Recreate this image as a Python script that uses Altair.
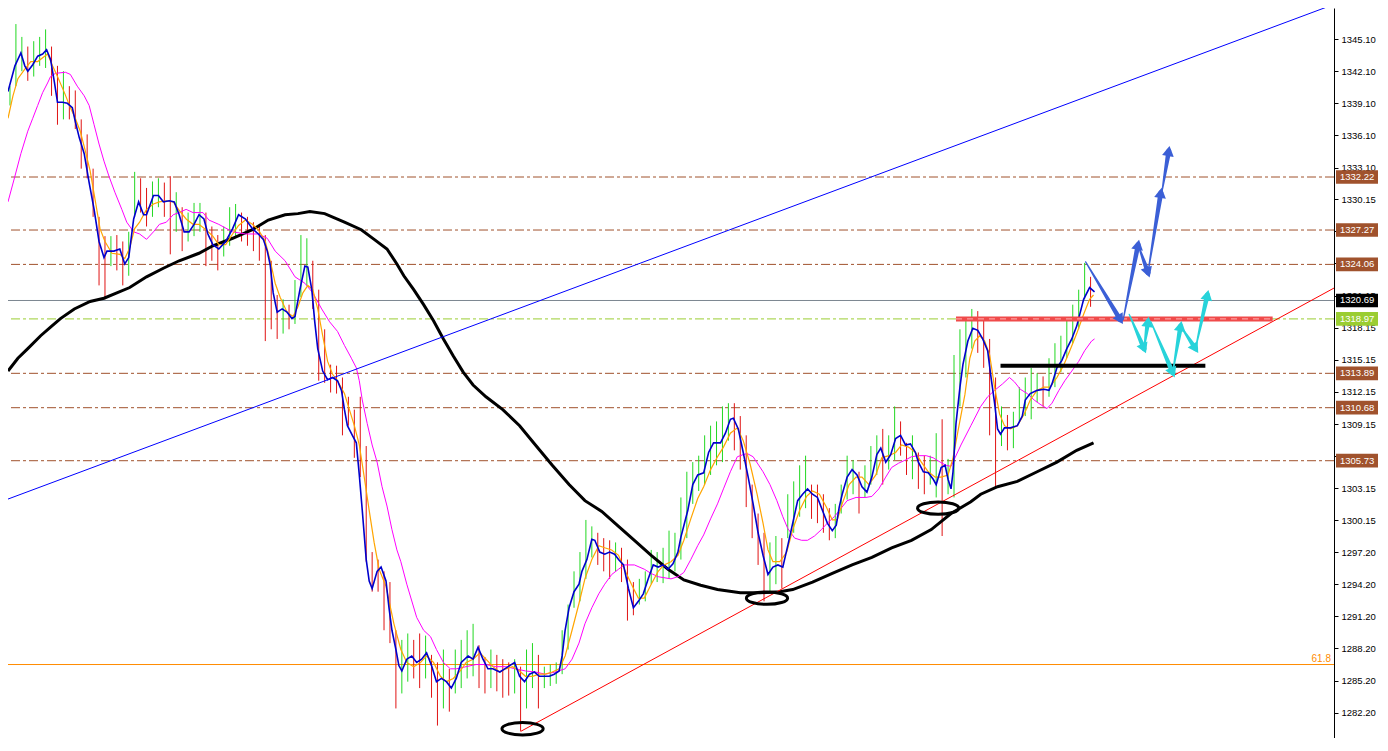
import altair as alt
import pandas as pd

W, H = 1326, 730
P_MIN, P_MAX = 1279.84, 1348.0
T_MAX = 1340

ticks = [1282.20, 1285.20, 1288.20, 1291.20, 1294.20, 1297.20, 1300.15, 1303.15,
         1306.15, 1309.15, 1312.15, 1315.15, 1318.15, 1321.15, 1324.15, 1327.15,
         1330.15, 1333.10, 1336.10, 1339.10, 1342.10, 1345.10]
brown_levels = [1332.22, 1327.27, 1324.06, 1313.89, 1310.68, 1305.73]
green_level = [1318.97]
grey_level = [1320.69]
fib_level = [1286.7]
fib_text = ["61.8"]

# OHLC bars: (time, high, low)
bars = [(2,1340.7,1338.9),(8,1346.5,1340.7),(14,1345.3,1342.1),(20,1344.4,1341.2),(26,1344.9,1341.6),
(32,1345.3,1342.6),(38,1346.0,1342.4),(44,1344.4,1339.8),(50,1342.6,1337.1),(56,1342.1,1337.6),
(62,1340.7,1337.6),(68,1340.3,1336.7),(74,1337.6,1333.0),(80,1336.2,1332.1),(86,1333.0,1328.5),
(92,1328.5,1322.1),(98,1326.7,1320.8),(104,1326.7,1323.9),(110,1326.8,1323.5),(116,1326.2,1322.1),
(122,1327.1,1323.0),(128,1332.7,1328.5),(134,1332.1,1328.9),(140,1331.2,1327.6),(146,1331.8,1328.5),
(152,1332.1,1329.4),(158,1331.7,1328.5),(164,1332.3,1325.0),(170,1330.8,1327.1),(176,1329.4,1325.3),
(182,1328.9,1326.2),(188,1329.8,1326.7),(194,1329.8,1327.1),(200,1328.9,1323.9),(206,1327.6,1324.4),
(212,1326.8,1323.5),(218,1327.6,1324.8),(224,1329.4,1325.8),(230,1329.7,1326.7),(236,1328.9,1326.2),
(242,1328.5,1325.8),(248,1328.0,1325.3),(254,1327.6,1324.4),(260,1326.8,1316.9),(266,1324.4,1318.0),
(272,1321.2,1317.1),(278,1320.8,1317.6),(284,1320.3,1318.0),(290,1322.6,1318.5),(296,1326.8,1321.0),
(302,1326.5,1322.1),(308,1324.4,1319.9),(314,1321.7,1313.2),(320,1318.0,1313.0),(326,1314.7,1312.1),
(332,1314.6,1312.0),(338,1313.5,1308.1),(344,1311.7,1309.0),(350,1310.5,1306.0),(356,1311.7,1304.2),
(362,1307.1,1296.3),(368,1297.2,1293.5),(374,1296.5,1293.5),(380,1295.4,1289.9),(386,1294.4,1288.7),
(392,1289.9,1282.6),(398,1289.0,1284.0),(404,1289.6,1285.1),(410,1289.0,1285.4),(416,1289.6,1284.5),
(422,1289.4,1285.4),(428,1287.6,1283.6),(434,1286.9,1281.0),(440,1288.1,1282.6),(446,1286.3,1282.3),
(452,1288.1,1284.0),(458,1289.0,1284.5),(464,1289.9,1285.4),(470,1290.5,1285.6),(476,1288.5,1284.5),
(482,1287.4,1284.0),(488,1288.1,1284.5),(494,1287.6,1284.2),(500,1287.2,1283.6),(506,1286.9,1283.8),
(512,1287.2,1284.0),(518,1286.5,1280.5),(524,1288.1,1282.6),(530,1288.7,1284.5),(536,1287.6,1282.6),
(542,1286.5,1284.5),(548,1286.7,1284.7),(554,1286.9,1284.9),(560,1289.9,1285.8),(566,1292.3,1288.1),
(572,1295.4,1292.0),(578,1297.2,1292.6),(584,1300.2,1294.7),(590,1299.6,1296.7),(596,1299.0,1296.0),
(602,1298.5,1295.4),(608,1298.3,1294.7),(614,1298.1,1295.4),(620,1297.6,1294.4),(626,1296.5,1290.8),
(632,1294.4,1291.3),(638,1294.7,1292.3),(644,1295.4,1292.6),(650,1297.4,1294.2),(656,1297.2,1294.4),
(662,1297.6,1294.3),(668,1299.2,1294.7),(674,1299.0,1295.4),(680,1302.3,1296.5),(686,1304.7,1298.5),
(692,1305.6,1301.7),(698,1306.2,1302.9),(704,1308.1,1303.5),(710,1309.0,1304.4),(716,1309.4,1305.3),
(722,1310.8,1305.6),(728,1311.1,1307.6),(734,1311.1,1306.7),(740,1309.9,1304.9),(746,1308.1,1301.4),
(752,1303.5,1298.5),(758,1300.8,1296.0),(764,1299.0,1292.6),(770,1298.1,1293.5),(776,1298.7,1294.2),
(782,1298.5,1293.8),(788,1302.6,1298.5),(794,1303.8,1299.0),(800,1305.3,1300.5),(806,1306.2,1301.3),
(812,1303.5,1300.3),(818,1303.5,1299.9),(824,1302.6,1299.0),(830,1301.3,1298.3),(836,1301.7,1298.5),
(842,1303.5,1300.8),(848,1306.2,1302.1),(854,1305.8,1302.6),(860,1304.7,1300.8),(866,1305.3,1302.3),
(872,1307.1,1303.5),(878,1308.1,1304.4),(884,1308.7,1303.5),(890,1308.1,1304.9),(896,1310.8,1305.8),
(902,1309.4,1306.2),(908,1307.4,1304.4),(914,1308.1,1304.0),(920,1306.5,1303.1),(926,1306.2,1302.6),
(932,1306.2,1303.5),(938,1308.3,1302.3),(944,1309.6,1298.7),(950,1305.9,1302.6),(956,1315.6,1302.3),
(962,1318.0,1310.8),(968,1319.0,1313.5),(974,1319.9,1316.2),(980,1319.7,1315.8),(986,1318.9,1314.4),
(992,1317.1,1308.1),(998,1313.5,1303.2),(1004,1310.8,1307.1),(1010,1310.0,1306.7),(1016,1310.3,1306.9),
(1022,1312.6,1309.4),(1028,1313.5,1309.9),(1034,1314.4,1309.6),(1040,1313.9,1311.2),(1046,1313.6,1310.8),
(1052,1315.3,1311.7),(1058,1316.7,1312.6),(1064,1317.4,1314.0),(1070,1318.9,1315.3),(1076,1320.3,1316.7),
(1082,1321.7,1318.0),(1088,1324.2,1320.8),(1094,1322.9,1320.1)]

# fast moving average (blue)
ma_fast = [(0,1340.2),(7,1342.6),(13,1343.8),(17,1342.6),(20,1342.1),(25,1342.7),(30,1343.5),(35,1343.7),
(39,1344.1),(43,1343.2),(47,1341.0),(50,1339.2),(55,1339.2),(60,1339.1),(65,1338.7),(68,1337.4),(72,1335.9),
(77,1334.4),(82,1331.7),(87,1329.2),(92,1326.2),(97,1324.7),(100,1325.3),(107,1325.3),(113,1325.5),
(118,1324.1),(122,1324.7),(127,1328.3),(132,1329.9),(137,1328.7),(140,1328.7),(147,1330.5),(152,1330.5),
(157,1329.9),(163,1330.0),(168,1329.9),(173,1328.7),(178,1327.1),(183,1327.1),(188,1327.8),(193,1328.7),
(198,1328.3),(202,1326.9),(207,1325.9),(213,1325.5),(220,1326.2),(227,1327.4),(233,1328.7),(240,1328.3),
(247,1327.4),(253,1326.9),(258,1326.4),(262,1325.3),(265,1324.0),(268,1321.4),(272,1319.6),(277,1319.9),
(282,1319.6),(287,1319.0),(290,1319.2),(295,1321.7),(300,1323.9),(303,1323.8),(307,1321.7),(310,1318.7),
(313,1316.2),(318,1314.1),(323,1313.3),(328,1313.5),(333,1313.2),(337,1312.3),(340,1310.5),(343,1309.0),
(348,1308.1),(352,1307.4),(355,1304.4),(358,1301.1),(362,1296.5),(365,1294.5),(368,1293.8),(373,1295.4),
(377,1295.8),(382,1294.5),(385,1292.0),(388,1289.9),(392,1288.1),(395,1286.6),(398,1286.1),(403,1287.2),
(408,1287.5),(413,1286.9),(418,1287.2),(423,1287.8),(428,1286.6),(433,1285.1),(438,1285.4),(443,1285.1),
(448,1284.5),(453,1285.4),(458,1286.9),(465,1287.5),(470,1287.2),(475,1288.3),(480,1287.2),(485,1286.3),
(490,1286.3),(497,1286.0),(502,1286.3),(507,1286.6),(512,1286.9),(517,1285.6),(522,1285.1),(527,1285.8),
(532,1286.0),(537,1285.6),(542,1285.6),(547,1285.6),(552,1285.8),(557,1286.1),(560,1287.5),(563,1289.9),
(567,1292.0),(572,1293.5),(577,1294.2),(580,1295.4),(585,1296.5),(590,1298.4),(593,1298.3),(598,1297.2),
(603,1297.0),(608,1297.2),(613,1297.0),(617,1296.5),(622,1296.0),(627,1293.8),(632,1292.0),(637,1292.6),
(642,1293.3),(647,1294.7),(652,1296.0),(657,1295.8),(662,1296.0),(667,1295.6),(672,1296.1),(677,1297.2),
(680,1298.6),(687,1301.1),(692,1303.5),(697,1304.4),(703,1304.6),(708,1306.5),(713,1307.4),(720,1307.4),
(725,1308.3),(730,1309.6),(733,1309.7),(738,1308.7),(743,1306.5),(748,1304.2),(753,1301.7),(758,1299.0),
(763,1296.9),(768,1295.1),(773,1295.8),(778,1296.0),(783,1295.8),(788,1297.8),(793,1299.9),(798,1302.0),
(803,1302.6),(808,1303.1),(813,1302.6),(818,1302.3),(823,1301.1),(828,1299.9),(833,1299.2),(837,1299.7),
(840,1301.4),(843,1302.6),(848,1304.2),(853,1304.9),(858,1304.4),(863,1303.3),(868,1302.8),(873,1304.2),
(878,1306.3),(882,1306.9),(887,1305.6),(892,1306.3),(897,1307.8),(902,1308.1),(907,1307.2),(912,1307.3),
(917,1306.5),(920,1305.6),(925,1304.7),(930,1304.6),(935,1304.0),(938,1303.5),(943,1305.1),(947,1305.3),
(950,1304.0),(953,1303.1),(955,1304.7),(958,1309.2),(962,1312.6),(965,1314.7),(970,1316.9),(975,1318.1),
(980,1317.9),(985,1317.1),(990,1316.0),(993,1313.8),(997,1311.1),(1000,1308.7),(1003,1308.2),(1007,1308.8),
(1013,1308.8),(1020,1309.0),(1025,1309.9),(1028,1311.4),(1033,1312.0),(1040,1312.3),(1047,1312.4),
(1052,1312.3),(1055,1312.9),(1060,1314.4),(1065,1315.1),(1070,1316.2),(1075,1317.1),(1080,1318.3),
(1087,1320.8),(1093,1321.9),(1098,1321.5)]

# medium moving average (orange)
ma_mid = [(0,1337.7),(5,1339.8),(10,1341.4),(17,1342.3),(23,1343.0),(30,1343.0),(37,1343.5),(40,1343.7),
(45,1342.6),(50,1341.6),(57,1340.1),(63,1338.7),(68,1337.7),(73,1336.5),(78,1334.7),(83,1332.8),(88,1330.1),
(93,1327.4),(98,1326.2),(105,1325.1),(113,1325.0),(118,1324.6),(123,1325.6),(128,1327.4),(133,1328.0),
(140,1329.2),(147,1329.7),(153,1329.9),(160,1330.0),(167,1329.9),(173,1329.1),(180,1328.3),(187,1327.8),
(193,1327.8),(200,1327.3),(207,1326.7),(213,1325.9),(220,1325.9),(227,1326.9),(233,1327.7),(240,1328.2),
(247,1327.8),(253,1327.3),(260,1326.2),(265,1324.4),(270,1322.3),(275,1321.0),(282,1319.6),(288,1319.2),
(293,1320.1),(298,1321.4),(303,1322.1),(308,1321.7),(313,1319.9),(318,1317.4),(323,1315.0),(328,1313.8),
(333,1313.2),(340,1312.0),(345,1310.5),(350,1309.0),(355,1307.2),(360,1304.2),(365,1301.1),(370,1298.1),
(375,1295.6),(382,1294.0),(390,1290.5),(397,1288.1),(403,1286.9),(410,1286.5),(417,1286.9),(423,1287.5),
(430,1286.9),(437,1285.6),(443,1285.1),(450,1285.4),(457,1286.1),(463,1286.9),(470,1287.2),(477,1287.8),
(483,1287.2),(490,1286.5),(497,1286.0),(503,1286.3),(510,1286.5),(517,1286.1),(523,1285.6),(530,1285.6),
(537,1285.8),(543,1285.8),(550,1286.0),(557,1286.3),(563,1287.5),(570,1289.9),(577,1292.4),(583,1294.7),
(590,1296.5),(597,1297.8),(603,1297.6),(610,1297.4),(617,1296.9),(623,1295.6),(630,1294.2),(637,1292.9),
(643,1292.9),(650,1294.2),(657,1295.4),(663,1296.0),(670,1296.3),(677,1296.9),(683,1298.3),(690,1300.3),
(697,1302.2),(703,1303.3),(710,1304.9),(717,1306.1),(723,1307.0),(730,1308.3),(737,1308.8),(743,1307.6),
(750,1305.4),(757,1302.6),(763,1299.9),(768,1297.4),(773,1296.3),(780,1296.3),(787,1297.2),(793,1299.3),
(800,1301.1),(807,1302.4),(813,1302.9),(820,1302.6),(827,1301.4),(833,1300.2),(838,1300.2),(843,1301.7),
(850,1303.5),(857,1304.2),(863,1304.2),(870,1303.5),(877,1304.4),(883,1306.0),(890,1306.2),(897,1306.5),
(903,1307.2),(910,1307.0),(917,1306.5),(923,1305.6),(930,1304.7),(937,1304.2),(943,1304.2),(950,1304.4),
(955,1306.0),(960,1308.5),(967,1311.9),(972,1315.3),(977,1316.9),(982,1317.4),(987,1316.9),(992,1315.6),
(997,1312.6),(1002,1310.1),(1007,1309.0),(1013,1308.7),(1020,1309.0),(1027,1310.1),(1033,1311.4),
(1040,1312.3),(1047,1312.6),(1053,1312.6),(1060,1313.5),(1067,1314.7),(1073,1316.0),(1080,1317.6),
(1087,1319.4),(1093,1320.8),(1097,1321.2)]

# slow moving average (magenta)
ma_slow = [(0,1329.9),(7,1332.3),(13,1334.4),(20,1336.5),(25,1337.7),(30,1338.9),(35,1340.1),(40,1341.0),
(43,1341.6),(48,1341.9),(58,1342.0),(63,1341.8),(70,1340.7),(77,1339.8),(82,1338.9),(87,1337.1),(92,1335.3),
(97,1333.7),(102,1332.3),(108,1330.8),(115,1329.2),(120,1328.0),(127,1327.1),(133,1326.9),(140,1326.4),
(147,1327.1),(153,1327.8),(160,1328.0),(167,1328.7),(173,1328.9),(180,1329.2),(187,1328.9),(197,1328.9),
(203,1328.2),(213,1327.8),(227,1327.1),(240,1326.9),(253,1326.9),(262,1326.5),(270,1325.3),(280,1324.4),
(290,1322.9),(300,1322.3),(308,1321.4),(317,1319.9),(325,1318.7),(333,1317.8),(340,1316.5),(347,1315.3),
(352,1314.4),(355,1313.2),(358,1311.4),(363,1309.2),(368,1307.2),(373,1305.6),(378,1303.3),(383,1301.5),
(388,1299.3),(393,1297.4),(397,1296.3),(403,1294.2),(413,1291.1),(420,1289.9),(427,1289.3),(433,1288.1),
(440,1286.9),(447,1286.3),(453,1286.3),(463,1286.5),(473,1286.7),(483,1286.7),(493,1286.5),(503,1286.5),
(513,1286.3),(523,1286.1),(533,1286.0),(543,1285.8),(553,1286.0),(563,1286.3),(570,1287.2),(577,1288.7),
(583,1290.5),(590,1292.0),(597,1293.3),(603,1294.2),(610,1295.1),(617,1295.6),(623,1296.0),(633,1296.0),
(643,1295.6),(650,1295.2),(657,1294.9),(670,1294.7),(677,1294.9),(683,1295.3),(690,1296.5),(697,1297.8),
(703,1298.8),(710,1300.3),(717,1301.7),(723,1303.1),(730,1304.7),(737,1306.1),(743,1306.3),(747,1306.4),
(753,1306.1),(763,1304.7),(770,1303.5),(777,1302.0),(783,1300.5),(788,1299.4),(795,1298.5),(802,1298.3),
(808,1298.3),(815,1298.7),(822,1299.3),(828,1299.9),(835,1300.5),(842,1301.3),(848,1302.0),(857,1302.3),
(867,1302.3),(873,1302.4),(880,1303.1),(887,1304.2),(893,1305.1),(900,1305.5),(907,1305.8),(913,1306.1),
(920,1306.2),(928,1306.2),(935,1306.0),(942,1305.6),(948,1305.3),(953,1305.2),(957,1306.0),(963,1307.2),
(973,1309.0),(983,1310.8),(990,1311.7),(997,1312.3),(1005,1312.9),(1012,1313.5),(1017,1313.1),
(1023,1312.4),(1030,1312.0),(1037,1311.4),(1043,1311.0),(1050,1310.6),(1055,1311.1),(1062,1312.3),
(1068,1313.2),(1075,1314.1),(1082,1315.0),(1088,1316.0),(1095,1316.9),(1098,1317.1)]

# long moving average (black, thick)
ma_long = [(0,1314.1),(10,1315.3),(20,1316.2),(33,1317.4),(43,1318.2),(53,1319.0),(67,1319.9),(83,1320.6),
(97,1320.9),(110,1321.4),(123,1321.9),(140,1322.9),(157,1323.7),(173,1324.4),(193,1325.1),(207,1325.8),
(227,1326.5),(247,1327.3),(263,1328.2),(280,1328.7),(293,1328.8),(305,1329.0),(320,1328.8),(340,1328.0),
(357,1327.3),(370,1326.4),(383,1325.5),(393,1324.1),(400,1323.0),(410,1321.7),(420,1320.3),(430,1318.8),
(440,1317.1),(450,1315.5),(460,1314.0),(470,1312.8),(483,1311.7),(500,1310.5),(517,1309.0),(533,1307.2),
(550,1305.3),(567,1303.5),(583,1302.0),(600,1301.0),(617,1299.6),(633,1298.3),(650,1296.9),(667,1295.6),
(683,1294.6),(700,1294.1),(717,1293.7),(740,1293.4),(760,1293.4),(780,1293.5),(793,1293.7),(813,1294.4),
(833,1295.2),(853,1296.0),(873,1296.7),(893,1297.6),(913,1298.3),(933,1299.3),(953,1300.8),(973,1301.9),
(983,1302.6),(1000,1303.3),(1020,1303.8),(1040,1304.7),(1060,1305.6),(1080,1306.7),(1097,1307.4)]

channel_line = [(0,1302.15),(1340,1348.34)]
support_line = [(518,1280.45),(1340,1321.85)]
red_zone = [(958,1278,1318.97)]
black_zone = [(1003,1210,1314.6)]
lows_marked = [(520,1280.7),(767,1292.9),(940,1301.3)]

blue_legs = [(1089,1324.3,1124,1318.9),(1127,1318.9,1142,1325.9),(1142,1325.9,1152,1323.3),
             (1152,1323.3,1165,1330.75),(1166,1330.75,1173,1334.65)]
cyan_legs = [(1133,1319.4,1148,1316.2),(1148,1316.2,1152,1318.7),(1155,1318.7,1177,1313.95),
             (1177,1313.95,1185,1318.3),(1185,1318.3,1200,1316.2),(1200,1316.2,1212,1321.2)]
blue_head_angles = [149, 11, 161, 9, 9]
cyan_head_angles = [157, 8, 157, 10, 147, 12]

BLUE_ARROW = "#3b5fd6"
CYAN_ARROW = "#27d3da"
ELLIPSE = ("M -1 0 C -1 -0.1657 -0.5523 -0.3 0 -0.3 C 0.5523 -0.3 1 -0.1657 1 0 "
           "C 1 0.1657 0.5523 0.3 0 0.3 C -0.5523 0.3 -1 0.1657 -1 0 Z")

xscale = alt.Scale(domain=[0, T_MAX], nice=False, zero=False)
yscale = alt.Scale(domain=[P_MIN, P_MAX], nice=False, zero=False)
X = alt.X("t:Q", scale=xscale, axis=None)

yaxis = alt.Axis(orient="right", values=ticks, format=".2f", title=None, grid=False,
                 domainColor="black", domainWidth=1, tickColor="black", tickSize=4,
                 labelColor="black", labelFont="Liberation Sans", labelFontSize=9.5,
                 labelPadding=3, labelOverlap=False)


def Y(f):
    return alt.Y(f, scale=yscale, axis=yaxis)


def pairs(data):
    return pd.DataFrame(data, columns=["t", "p"])


brown = alt.Chart(pd.DataFrame({"p": brown_levels})).mark_rule(
    color="#A0522D", strokeDash=[9, 3, 3, 3], strokeWidth=1).encode(y=Y("p:Q"))
green = alt.Chart(pd.DataFrame({"p": green_level})).mark_rule(
    color="#9ACD32", strokeDash=[9, 3, 3, 3], strokeWidth=1).encode(y=Y("p:Q"))
grey = alt.Chart(pd.DataFrame({"p": grey_level})).mark_rule(
    color="#7d8791", strokeWidth=1).encode(y=Y("p:Q"))
fib = alt.Chart(pd.DataFrame({"p": fib_level})).mark_rule(
    color="#FF8C00", strokeWidth=1).encode(y=Y("p:Q"))
fib_lbl = alt.Chart(pd.DataFrame({"p": fib_level, "txt": fib_text, "t": [1337]})).mark_text(
    align="right", baseline="bottom", dy=-1, color="#FF8C00", font="Liberation Sans",
    fontSize=10).encode(x=X, y=Y("p:Q"), text="txt:N")

bars_df = pd.DataFrame(bars, columns=["t", "hi", "lo"])
bar_layer = alt.Chart(bars_df).transform_calculate(
    mid="(datum.hi + datum.lo) / 2").transform_window(
    prev="lag(mid)", sort=[alt.SortField("t")]).transform_calculate(
    dir="datum.prev == null || datum.mid >= datum.prev ? 'up' : 'down'").mark_rule(
    strokeWidth=1).encode(
    x=X, y=Y("hi:Q"), y2="lo:Q",
    color=alt.Color("dir:N", scale=alt.Scale(domain=["up", "down"], range=["#22d822", "#e01414"]),
                    legend=None))

long_l = alt.Chart(pairs(ma_long)).mark_line(color="black", strokeWidth=3).encode(x=X, y=Y("p:Q"))
slow_l = alt.Chart(pairs(ma_slow)).mark_line(color="#FF00FF", strokeWidth=1).encode(x=X, y=Y("p:Q"))
mid_l = alt.Chart(pairs(ma_mid)).mark_line(color="#FFA500", strokeWidth=1.2).encode(x=X, y=Y("p:Q"))
fast_l = alt.Chart(pairs(ma_fast)).mark_line(color="#0000CD", strokeWidth=1.6).encode(x=X, y=Y("p:Q"))

chan = alt.Chart(pairs(channel_line)).mark_line(color="#0000FF", strokeWidth=1, clip=True).encode(
    x=X, y=Y("p:Q"))
supp = alt.Chart(pairs(support_line)).mark_line(color="#FF0000", strokeWidth=1, clip=True).encode(
    x=X, y=Y("p:Q"))

zone_red = alt.Chart(pd.DataFrame(red_zone, columns=["t", "t2", "p"])).mark_rule(
    color="#f04a4a", strokeWidth=5).encode(x=X, x2="t2:Q", y=Y("p:Q"))
zone_red2 = alt.Chart(pd.DataFrame(red_zone, columns=["t", "t2", "p"])).mark_rule(
    color="#ffb3b3", strokeWidth=1, strokeDash=[6, 5]).encode(x=X, x2="t2:Q", y=Y("p:Q"))
zone_black = alt.Chart(pd.DataFrame(black_zone, columns=["t", "t2", "p"])).mark_rule(
    color="black", strokeWidth=4).encode(x=X, x2="t2:Q", y=Y("p:Q"))

ellipses = alt.Chart(pairs(lows_marked)).mark_point(
    shape=ELLIPSE, size=1700, filled=False, color="black", strokeWidth=3, opacity=1).encode(
    x=X, y=Y("p:Q"))


def legs_frames(legs, angles, name):
    rows, heads = [], []
    for i, (t0, p0, t1, p1) in enumerate(legs):
        rows.append({"leg": f"{name}{i}", "k": 0, "t": t0, "p": p0, "w": 1.2})
        rows.append({"leg": f"{name}{i}", "k": 1, "t": t1, "p": p1, "w": 5.0})
        heads.append({"t": t1, "p": p1, "ang": angles[i]})
    return pd.DataFrame(rows), pd.DataFrame(heads)


arrow_layers = []
for legs, angles, name, col in [(blue_legs, blue_head_angles, "b", BLUE_ARROW),
                                (cyan_legs, cyan_head_angles, "c", CYAN_ARROW)]:
    ldf, hdf = legs_frames(legs, angles, name)
    arrow_layers.append(alt.Chart(ldf).mark_trail(color=col).encode(
        x=X, y=Y("p:Q"), size=alt.Size("w:Q", scale=None), detail="leg:N", order="k:Q"))
    arrow_layers.append(alt.Chart(hdf).mark_point(
        shape="triangle-up", filled=True, size=140, color=col, opacity=1).encode(
        x=X, y=Y("p:Q"), angle=alt.Angle("ang:Q", scale=None)))

box_layers = []
for levels, col in [(brown_levels, "#A0522D"), (grey_level, "#000000"), (green_level, "#9ACD32")]:
    df = pd.DataFrame({"p": levels})
    df["txt"] = [f"{v:.2f}" for v in levels]
    base = alt.Chart(df).transform_calculate(top="datum.p + 0.64", bot="datum.p - 0.64")
    box_layers.append(base.mark_rect(color=col).encode(
        x=alt.value(W + 2), x2=alt.value(W + 44), y=Y("top:Q"), y2="bot:Q"))
    box_layers.append(base.mark_text(align="left", baseline="middle", color="white",
                                     font="Liberation Sans", fontSize=9.5).encode(
        x=alt.value(W + 6), y=Y("p:Q"), text="txt:N"))

chart = alt.layer(
    brown, green, grey, fib, bar_layer, long_l, slow_l, mid_l, fast_l, chan, supp,
    zone_red, zone_red2, zone_black, ellipses, *arrow_layers, *box_layers, fib_lbl
).properties(
    width=W, height=H, background="white",
    autosize=alt.AutoSizeParams(type="none"),
    padding={"left": 0, "right": 46, "top": 0, "bottom": 0}
).configure_view(stroke=None)

chart.save("out.html", embed_options={"renderer": "svg", "actions": False})
